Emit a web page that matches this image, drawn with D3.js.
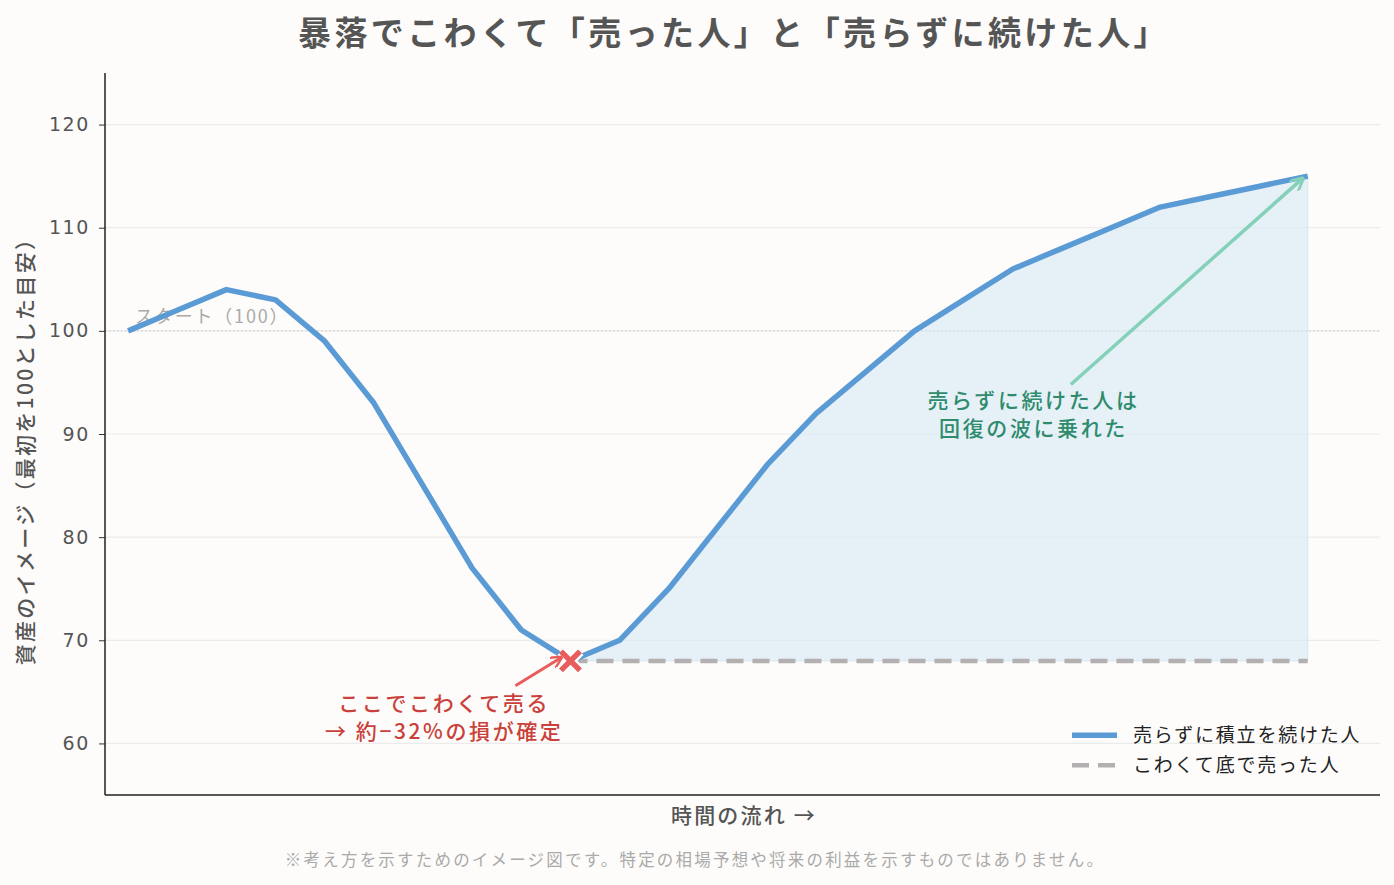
<!DOCTYPE html>
<html lang="ja">
<head>
<meta charset="UTF-8">
<title>暴落でこわくて「売った人」と「売らずに続けた人」</title>
<script src="https://d3js.org/d3.v7.min.js"></script>
<style>
    body { margin: 0; background: #fdfcfa; }
    svg { display: block; font-family: "Noto Sans CJK JP", "Noto Sans", sans-serif; }
</style>
<script>
    // 資産のイメージ（最初を100とした目安）
    let holdValues = [100, 102, 104, 103, 99, 93, 85, 77, 71, 68, 70, 75, 81, 87, 92, 96, 100, 103, 106, 108, 110, 112, 113, 114, 115];
    let sellIndex = 9;
    let sellValue = 68;
    let yTicks = [60, 70, 80, 90, 100, 110, 120];

    let titleText = "暴落でこわくて「売った人」と「売らずに続けた人」";
    let xLabel = "時間の流れ →";
    let yLabel = "資産のイメージ（最初を100とした目安）";
    let note = "※考え方を示すためのイメージ図です。特定の相場予想や将来の利益を示すものではありません。";
    let legendNames = ["売らずに積立を続けた人", "こわくて底で売った人"];
    let sellNote = ["ここでこわくて売る", "→ 約−32%の損が確定"];
    let holdNote = ["売らずに続けた人は", "回復の波に乗れた"];

    document.addEventListener("DOMContentLoaded", function() {
        const width = 1394, height = 885;
        const margins = {top: 73, right: 14, bottom: 90, left: 105};
        const w = width - margins.left - margins.right;
        const h = height - margins.top - margins.bottom;

        const svg = d3.select("svg").attr("width", width).attr("height", height);

        const x = d3.scaleLinear().domain([-0.47, 25.47]).range([0, w]);
        const y = d3.scaleLinear().domain([55, 125]).range([h, 0]);

        const g = svg.append("g").attr("transform", `translate(${margins.left},${margins.top})`);

        // grid
        g.append("g").selectAll("line").data(yTicks).join("line")
            .attr("x1", 0).attr("x2", w)
            .attr("y1", d => y(d)).attr("y2", d => y(d))
            .attr("stroke", "#ebebeb").attr("stroke-width", 1.2);

        // start line
        g.append("line")
            .attr("x1", 0).attr("x2", w)
            .attr("y1", y(100)).attr("y2", y(100))
            .attr("stroke", "#d8d8d8").attr("stroke-width", 1.2)
            .attr("stroke-dasharray", "2,2");
        g.append("text")
            .attr("x", x(0) + 7).attr("y", y(100) - 8)
            .attr("fill", "#aaaaaa").attr("font-size", 18).attr("letter-spacing", 1.8)
            .text("スタート（100）");

        // fill between
        const recovery = holdValues.map((v, i) => ({i: i, v: v})).filter(d => d.i >= sellIndex);
        const area = d3.area()
            .x(d => x(d.i))
            .y0(y(sellValue))
            .y1(d => y(d.v));
        g.append("path").datum(recovery)
            .attr("d", area)
            .attr("fill", "#d6e8f5").attr("fill-opacity", 0.6)
            .attr("stroke", "#d6e8f5").attr("stroke-width", 1);

        // sell line
        g.append("line")
            .attr("x1", x(sellIndex)).attr("x2", x(holdValues.length - 1))
            .attr("y1", y(sellValue)).attr("y2", y(sellValue))
            .attr("stroke", "#b2b0b0").attr("stroke-width", 4.5)
            .attr("stroke-dasharray", "17,9");

        // hold line
        const line = d3.line().x((d, i) => x(i)).y(d => y(d));
        g.append("path").datum(holdValues)
            .attr("d", line)
            .attr("fill", "none")
            .attr("stroke", "#5b9bd5").attr("stroke-width", 5.5)
            .attr("stroke-linejoin", "round");

        // marker
        const mx = x(sellIndex), my = y(sellValue), s = 9.5;
        const cross = `M${mx - s},${my - s}L${mx + s},${my + s}M${mx - s},${my + s}L${mx + s},${my - s}`;
        g.append("path").attr("d", cross).attr("stroke", "#fff").attr("stroke-width", 10);
        g.append("path").attr("d", cross).attr("stroke", "#e85c5c").attr("stroke-width", 5.5);

        // arrows
        const defs = svg.append("defs");
        function marker(id, color) {
            defs.append("marker").attr("id", id)
                .attr("viewBox", "0 0 10 10").attr("refX", 8).attr("refY", 5)
                .attr("markerWidth", 4).attr("markerHeight", 4)
                .attr("orient", "auto")
                .append("path").attr("d", "M0,0L10,5L0,10")
                .attr("fill", "none").attr("stroke", color).attr("stroke-width", 2);
        }
        marker("redhead", "#e85c5c");
        marker("greenhead", "#84d0b8");

        g.append("line")
            .attr("x1", x(7.88)).attr("y1", y(65.6))
            .attr("x2", x(sellIndex) - 10).attr("y2", y(sellValue) - 3)
            .attr("stroke", "#e85c5c").attr("stroke-width", 3)
            .attr("marker-end", "url(#redhead)");

        g.append("line")
            .attr("x1", x(19.18)).attr("y1", y(94.8))
            .attr("x2", x(24) - 6).attr("y2", y(115) + 3)
            .attr("stroke", "#84d0b8").attr("stroke-width", 3.5)
            .attr("marker-end", "url(#greenhead)");

        g.append("text").attr("text-anchor", "middle")
            .attr("x", x(6.41)).attr("y", y(63.1))
            .attr("fill", "#c9413a").attr("font-size", 21).attr("font-weight", 500)
            .attr("letter-spacing", 2.6)
            .selectAll("tspan").data(sellNote).join("tspan")
            .attr("x", x(6.41) + 1).attr("dy", (d, i) => i ? 28 : 0)
            .text(d => d);

        g.append("text").attr("text-anchor", "middle")
            .attr("x", x(18.4)).attr("y", y(92.5))
            .attr("fill", "#2e8b6c").attr("font-size", 21).attr("font-weight", 500)
            .attr("letter-spacing", 2.6)
            .selectAll("tspan").data(holdNote).join("tspan")
            .attr("x", x(18.4) + 1).attr("dy", (d, i) => i ? 28 : 0)
            .text(d => d);

        // axes
        const yAxis = g.append("g").call(d3.axisLeft(y).tickValues(yTicks).tickSize(6).tickPadding(9));
        yAxis.select(".domain").remove();
        yAxis.selectAll("line").attr("stroke", "#333");
        yAxis.selectAll("text").attr("fill", "#555").attr("font-size", 19)
            .attr("letter-spacing", 1.6)
            .attr("font-family", "'DejaVu Sans', sans-serif");

        g.append("line").attr("x1", 0).attr("x2", 0).attr("y1", 0).attr("y2", h)
            .attr("stroke", "#222").attr("stroke-width", 1.5);
        g.append("line").attr("x1", 0).attr("x2", w).attr("y1", h).attr("y2", h)
            .attr("stroke", "#222").attr("stroke-width", 1.5);

        // legend
        const lg = g.append("g").attr("transform", `translate(${1072 - margins.left},${y(60.8)})`);
        lg.append("line").attr("x1", 0).attr("x2", 45).attr("y1", 0).attr("y2", 0)
            .attr("stroke", "#5b9bd5").attr("stroke-width", 5.5);
        lg.append("line").attr("x1", 0).attr("x2", 45).attr("y1", 30).attr("y2", 30)
            .attr("stroke", "#b2b0b0").attr("stroke-width", 4.5).attr("stroke-dasharray", "17,9");
        lg.selectAll("text").data(legendNames).join("text")
            .attr("x", 61).attr("y", (d, i) => i * 30 + 7)
            .attr("fill", "#222").attr("font-size", 19).attr("letter-spacing", 1.8)
            .text(d => d);

        // labels
        svg.append("text").attr("text-anchor", "middle")
            .attr("x", 734).attr("y", 45)
            .attr("fill", "#555").attr("font-size", 33).attr("font-weight", 700)
            .attr("letter-spacing", 3.4)
            .text(titleText);

        svg.append("text").attr("text-anchor", "middle")
            .attr("x", 744).attr("y", 823)
            .attr("fill", "#555").attr("font-size", 21).attr("font-weight", 500)
            .attr("letter-spacing", 2.2)
            .text(xLabel);

        svg.append("text").attr("text-anchor", "middle")
            .attr("transform", `translate(33,${446}) rotate(-90)`)
            .attr("fill", "#555").attr("font-size", 21).attr("font-weight", 500)
            .attr("letter-spacing", 2.3)
            .text(yLabel);

        svg.append("text").attr("text-anchor", "middle")
            .attr("x", 695).attr("y", 866)
            .attr("fill", "#aaa").attr("font-size", 16.5).attr("letter-spacing", 2.2)
            .text(note);
    });
</script>
</head>
<body>
<svg></svg>
</body>
</html>
